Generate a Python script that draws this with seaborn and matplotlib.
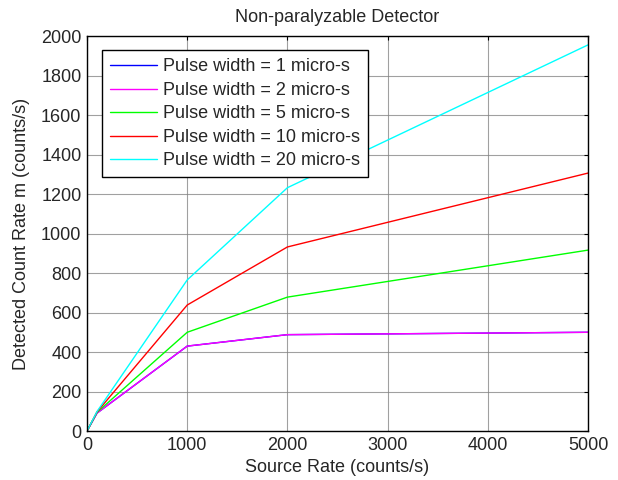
import matplotlib
matplotlib.use("Agg")
import matplotlib.pyplot as plt
import seaborn as sns
import pandas as pd

source_rate = [0, 100, 1000, 2000, 5000]
labels = ["Pulse width = 1 micro-s", "Pulse width = 2 micro-s", "Pulse width = 5 micro-s",
          "Pulse width = 10 micro-s", "Pulse width = 20 micro-s"]
pw1 = [0, 91, 430, 488, 500]
pw2 = [0, 91, 430, 488, 500]
pw5 = [0, 95, 500, 678, 916]
pw10 = [0, 97, 638, 932, 1306]
pw20 = [0, 99, 765, 1232, 1955]
colors = ["#0000ff", "#ff00ff", "#00ff00", "#ff0000", "#00ffff"]

rows = []
for lab, ys in zip(labels, [pw1, pw2, pw5, pw10, pw20]):
    for x, y in zip(source_rate, ys):
        rows.append({"x": x, "y": y, "series": lab})
df = pd.DataFrame(rows)

sns.set_style("white")
plt.rcParams["font.family"] = ["Liberation Sans", "DejaVu Sans"]

fs = 13
fig = plt.figure(figsize=(6.18, 4.8), dpi=100)
ax = fig.add_axes([0.1408, 0.102, 0.8107, 0.823])
sns.lineplot(data=df, x="x", y="y", hue="series", palette=colors, hue_order=labels,
             ax=ax, linewidth=1.0, estimator=None, sort=False)

ax.set_xlim(0, 5000)
ax.set_ylim(0, 2000)
ax.set_xticks([0, 1000, 2000, 3000, 4000, 5000])
ax.set_yticks(range(0, 2001, 200))
ax.grid(True, color="#808080", linewidth=0.8, alpha=0.75)
ax.tick_params(direction="in", top=True, right=True, labelsize=fs, length=3, color="black", pad=4)
for s in ax.spines.values():
    s.set_color("black")
    s.set_linewidth(1.0)
ax.set_xlabel("Source Rate (counts/s)", fontsize=fs, labelpad=4)
ax.set_ylabel("Detected Count Rate m (counts/s)", fontsize=fs, labelpad=8)
ax.set_title("Non-paralyzable Detector", fontsize=fs, pad=10)

leg = ax.legend(loc="upper left", bbox_to_anchor=(0.03, 0.964), fontsize=fs,
                frameon=True, fancybox=False, framealpha=1, edgecolor="black",
                borderpad=0.45, labelspacing=0.36, handlelength=2.6, handletextpad=0.3,
                borderaxespad=0)
leg.get_frame().set_linewidth(1.0)

fig.savefig("out.png", dpi=100)
